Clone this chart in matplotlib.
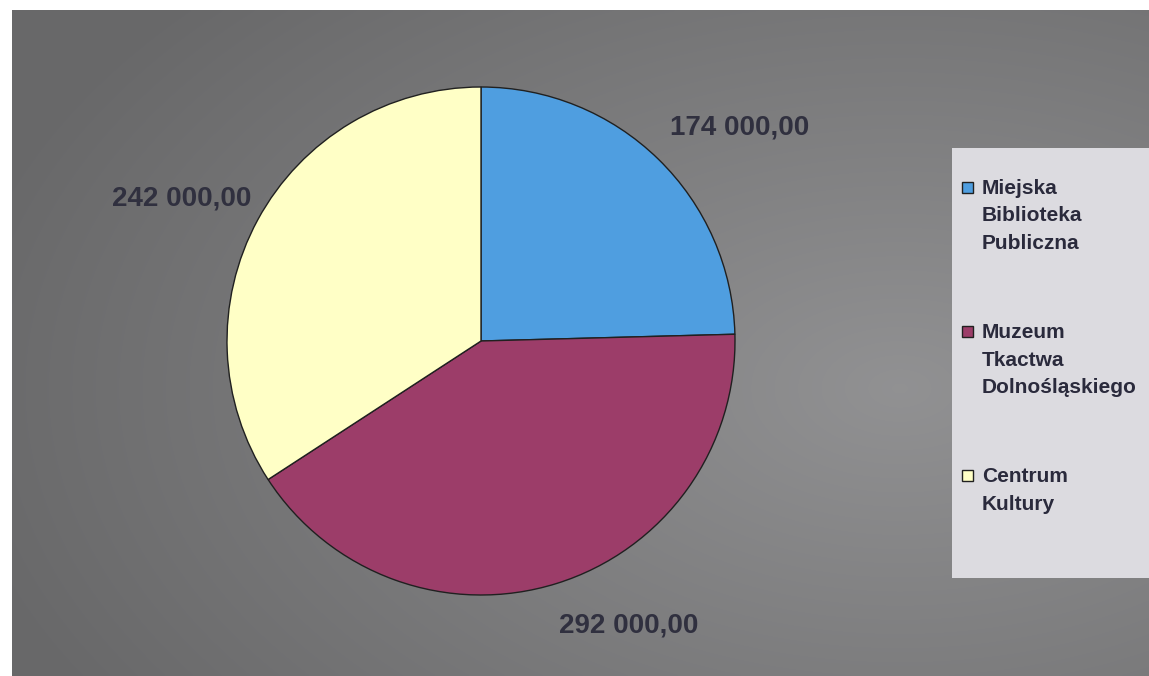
import numpy as np
import matplotlib
matplotlib.use("Agg")
import matplotlib.pyplot as plt
from matplotlib.patches import Rectangle

categories = ["Miejska\nBiblioteka\nPubliczna", "Muzeum\nTkactwa\nDolnośląskiego", "Centrum\nKultury"]
values = [174000, 292000, 242000]
value_labels = ["174 000,00", "292 000,00", "242 000,00"]
colors = ["#4f9ee0", "#9c3d69", "#ffffc6"]

W, H = 1149, 676
fig = plt.figure(figsize=(W / 100, H / 100), dpi=100)
fig.patch.set_facecolor("white")

# gray gradient background panel
bg = fig.add_axes([12 / W, 0, 1 - 12 / W, 1 - 10 / H])
bg.set_axis_off()
yy, xx = np.mgrid[0:300, 0:500]
cx, cy = 390, 170
d = np.sqrt(((xx - cx) / 420.0) ** 2 + ((yy - cy) / 260.0) ** 2)
d = np.clip(d, 0, 1)
g = 0.57 - 0.16 * d
img = np.dstack([g, g, g * 1.01])
img = np.clip(img, 0, 1)
bg.imshow(img, aspect="auto", extent=[0, 1, 0, 1], origin="upper", interpolation="bilinear")
bg.set_xlim(0, 1)
bg.set_ylim(0, 1)

# pie axes
cxp, cyp, r = 481, 341, 254
ax = fig.add_axes([(cxp - r) / W, (H - cyp - r) / H, 2 * r / W, 2 * r / H])
ax.set_axis_off()
wedges, _ = ax.pie(values, colors=colors, startangle=90, counterclock=False,
                   wedgeprops=dict(edgecolor="#202020", linewidth=1.0))
ax.set_xlim(-1.0, 1.0)
ax.set_ylim(-1.0, 1.0)

label_pos = [(1.02, 0.84), (0.58, -1.12), (-1.18, 0.56)]
for txt, (lx, ly) in zip(value_labels, label_pos):
    ax.text(lx, ly, txt, ha="center", va="center", fontsize=20, fontweight="bold",
            family="Liberation Sans", color="#30303f", clip_on=False)

# legend box
fig.patches.append(Rectangle((952 / W, (H - 578) / H), (W - 952) / W, (578 - 148) / H,
                             transform=fig.transFigure, facecolor="#dcdbe0",
                             edgecolor="none", zorder=0))
# legend entries drawn manually: marker at first line of each multi-line label
top_px, step_px, line_px = 179, 144, 27.5
for i, (lab, col) in enumerate(zip(categories, colors)):
    y0 = top_px + i * step_px
    fig.patches.append(Rectangle((962 / W, 1 - (y0 + 14) / H), 11 / W, 11 / H,
                                 transform=fig.transFigure, facecolor=col,
                                 edgecolor="#202020", linewidth=1.0, zorder=3))
    for j, line in enumerate(lab.split("\n")):
        fig.text(982 / W, 1 - (y0 + j * line_px) / H, line, ha="left", va="top",
                 fontsize=15, fontweight="bold", family="Liberation Sans",
                 color="#2a2a3c")

fig.savefig("out.png", dpi=100, facecolor="white")
